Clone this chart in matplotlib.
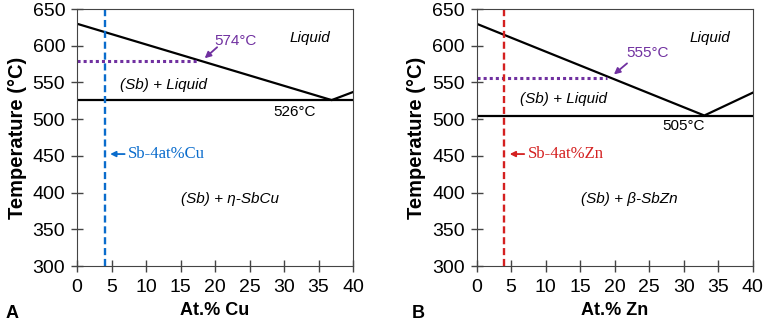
import matplotlib.pyplot as plt

plt.rcParams['font.family'] = ['Liberation Sans', 'DejaVu Sans']

# panel A: Sb-Cu
cu_liq_x = [0, 36.9, 40]
cu_liq_t = [630, 526, 537]
cu_eut = 526
cu_onset = 579
cu_onset_x = 17.5
cu_alloy = 4

# panel B: Sb-Zn
zn_liq_x = [0, 33, 40]
zn_liq_t = [630, 505, 536]
zn_eut = 505
zn_onset = 556
zn_onset_x = 18.9
zn_alloy = 4

panels = [
    dict(ax_left=0.1007, liq_x=cu_liq_x, liq_t=cu_liq_t, eut=cu_eut, onset=cu_onset,
         onset_x=cu_onset_x, alloy=cu_alloy, color='#0a6ccc', alloy_label='Sb-4at%Cu',
         onset_label='574°C', onset_lxy=(23.0, 607), arrow_tip=(18.5, 583), arrow_tail=(20.3, 598),
         eut_label='526°C', eut_lxy=(31.6, 510), liq2_y=546.5,
         solid_label='(Sb) + η-SbCu', xlabel='At.% Cu', letter='A', letter_x=0.007),
    dict(ax_left=0.623, liq_x=zn_liq_x, liq_t=zn_liq_t, eut=zn_eut, onset=zn_onset,
         onset_x=zn_onset_x, alloy=zn_alloy, color='#d42020', alloy_label='Sb-4at%Zn',
         onset_label='555°C', onset_lxy=(24.8, 590), arrow_tip=(19.9, 561), arrow_tail=(21.8, 576),
         eut_label='505°C', eut_lxy=(30.0, 490.5), liq2_y=527,
         solid_label='(Sb) + β-SbZn', xlabel='At.% Zn', letter='B', letter_x=0.538),
]

fig = plt.figure(figsize=(7.65, 3.24), dpi=100)

for p in panels:
    ax = fig.add_axes([p['ax_left'], 0.179, 0.3608, 0.793])
    ax.plot(p['liq_x'], p['liq_t'], color='black', lw=1.6)
    ax.plot([0, 40], [p['eut'], p['eut']], color='black', lw=1.6)
    ax.plot([0, p['onset_x']], [p['onset'], p['onset']], color='#7030a0', lw=2.2, ls=(0, (1, 1)))
    ax.axvline(p['alloy'], color=p['color'], lw=1.7, ls=(0, (3, 1.6)))

    ax.annotate('', xy=p['arrow_tip'], xytext=p['arrow_tail'],
                arrowprops=dict(arrowstyle='-|>', color='#7030a0', lw=1.3, mutation_scale=9,
                                shrinkA=0, shrinkB=0))
    ax.text(*p['onset_lxy'], p['onset_label'], color='#7030a0', fontsize=11,
            ha='center', va='center')

    ax.annotate('', xy=(p['alloy'] + 0.8, 452.5), xytext=(p['alloy'] + 2.9, 452.5),
                arrowprops=dict(arrowstyle='-|>', color=p['color'], lw=1.3, mutation_scale=8,
                                shrinkA=0, shrinkB=0))
    ax.text(p['alloy'] + 3.4, 452.5, p['alloy_label'], color=p['color'], fontsize=12,
            family='Liberation Serif', ha='left', va='center')

    ax.text(33.8, 610, 'Liquid', style='italic', fontsize=11, ha='center', va='center')
    ax.text(12.6, p['liq2_y'], '(Sb) + Liquid', style='italic',
            fontsize=11, ha='center', va='center')
    ax.text(*p['eut_lxy'], p['eut_label'], fontsize=11, ha='center', va='center')
    ax.text(22.2, 391, p['solid_label'], style='italic', fontsize=11, ha='center', va='center')

    ax.set_xlim(0, 40)
    ax.set_ylim(300, 650)
    ax.set_xticks(range(0, 41, 5))
    ax.set_yticks(range(300, 651, 50))
    ax.tick_params(direction='inout', length=9, width=1, labelsize=14, color='#444444')
    ax.tick_params(axis='x', pad=5)
    ax.tick_params(axis='y', pad=4)
    ax.set_xlabel(p['xlabel'], fontsize=13, fontweight='bold', labelpad=4)
    ax.set_ylabel('Temperature (°C)', fontsize=14.5, fontweight='bold', labelpad=4)
    for s in ax.spines.values():
        s.set_color('#444444')
    fig.text(p['letter_x'], 0.02, p['letter'], fontsize=13, fontweight='bold')

fig.savefig('out.png', dpi=100)
